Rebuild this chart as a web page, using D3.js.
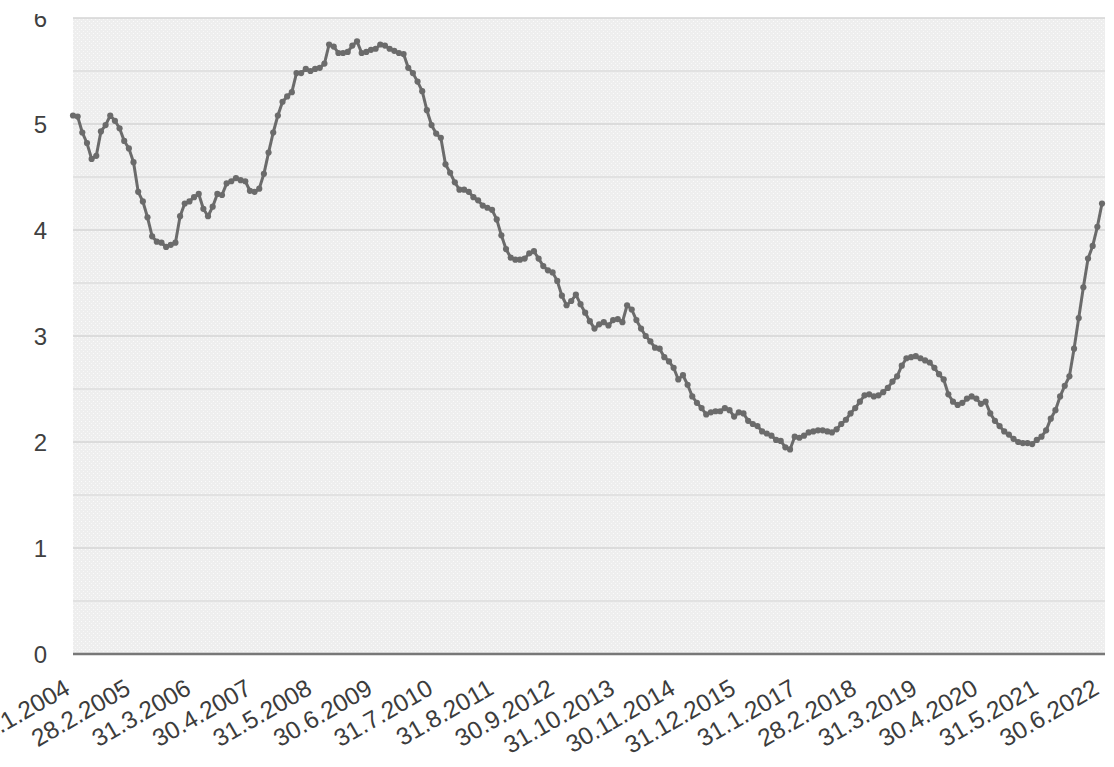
<!DOCTYPE html>
<html><head><meta charset="utf-8">
<script src="https://cdn.jsdelivr.net/npm/d3@7/dist/d3.min.js"></script>
<style>html,body{margin:0;padding:0;background:#fff;} svg{display:block}</style>
</head><body>
<svg id="chart" width="1114" height="767"></svg>
<script>
// Monthly series, Jan 2004 .. Jun 2022 (month-end values)
const values = [
5.08,5.07,4.92,4.82,4.67,4.70,4.93,4.99,5.08,5.03,4.96,4.84,
4.77,4.64,4.36,4.27,4.12,3.94,3.89,3.88,3.84,3.86,3.88,4.13,
4.25,4.27,4.31,4.34,4.20,4.13,4.22,4.34,4.33,4.44,4.46,4.49,
4.47,4.46,4.37,4.36,4.39,4.53,4.73,4.92,5.08,5.21,5.26,5.30,
5.48,5.48,5.52,5.50,5.52,5.53,5.57,5.75,5.73,5.67,5.67,5.68,
5.74,5.78,5.67,5.68,5.70,5.71,5.75,5.74,5.71,5.69,5.67,5.66,
5.53,5.48,5.40,5.31,5.13,4.99,4.91,4.87,4.62,4.54,4.45,4.38,
4.38,4.36,4.31,4.28,4.23,4.21,4.19,4.10,3.95,3.82,3.74,3.72,
3.72,3.73,3.78,3.80,3.73,3.66,3.62,3.60,3.52,3.38,3.29,3.33,
3.39,3.30,3.22,3.14,3.07,3.11,3.13,3.10,3.15,3.16,3.13,3.29,
3.25,3.15,3.07,3.00,2.95,2.89,2.88,2.80,2.76,2.70,2.59,2.63,
2.54,2.43,2.37,2.32,2.26,2.28,2.29,2.29,2.32,2.30,2.24,2.28,
2.27,2.20,2.17,2.15,2.10,2.08,2.06,2.02,2.01,1.95,1.93,2.05,
2.04,2.06,2.09,2.10,2.11,2.11,2.10,2.09,2.12,2.17,2.21,2.27,
2.32,2.38,2.44,2.45,2.43,2.44,2.47,2.51,2.57,2.62,2.72,2.79,
2.80,2.81,2.79,2.77,2.75,2.70,2.64,2.59,2.45,2.38,2.35,2.37,
2.41,2.43,2.41,2.36,2.38,2.27,2.20,2.15,2.10,2.07,2.03,2.00,
1.99,1.99,1.98,2.02,2.05,2.11,2.22,2.30,2.43,2.53,2.62,2.88,
3.17,3.46,3.73,3.85,4.03,4.25
];
const yTicks = [0,1,2,3,4,5,6];
const yGrid = [0.5,1,1.5,2,2.5,3,3.5,4,4.5,5,5.5,6];
const tickLabels = ["31.1.2004","28.2.2005","31.3.2006","30.4.2007","31.5.2008","30.6.2009",
  "31.7.2010","31.8.2011","30.9.2012","31.10.2013","30.11.2014","31.12.2015","31.1.2017",
  "28.2.2018","31.3.2019","30.4.2020","31.5.2021","30.6.2022"];
const startYear = 2004, startMonth = 0;
const categories = values.map((v,i)=>{
  const d = new Date(Date.UTC(startYear, startMonth + i + 1, 0));
  return d.getUTCDate() + "." + (d.getUTCMonth()+1) + "." + d.getUTCFullYear();
});

const svg = d3.select("#chart");
const L = 73, R = 1105, T = 18, B = 654;
const x = d3.scalePoint().domain(categories).range([73, 1102]);
const y = d3.scaleLinear().domain([0, 6]).range([B, T]);

const defs = svg.append("defs");
const pat = defs.append("pattern").attr("id","dots").attr("width",4).attr("height",4)
  .attr("patternUnits","userSpaceOnUse");
pat.append("rect").attr("width",4).attr("height",4).attr("fill","#eeeeee");
pat.append("rect").attr("x",1).attr("y",1).attr("width",1).attr("height",1).attr("fill","#fbfbfb");
pat.append("rect").attr("x",3).attr("y",3).attr("width",1).attr("height",1).attr("fill","#f8f8f8");
defs.append("clipPath").attr("id","yclip").append("rect")
  .attr("x",0).attr("y",14).attr("width",70).attr("height",760);

svg.append("rect").attr("x",L).attr("y",T).attr("width",R-L).attr("height",B-T).attr("fill","url(#dots)");

svg.append("g").selectAll("line").data(yGrid).join("line")
  .attr("x1",L).attr("x2",R)
  .attr("y1",d=>y(d)).attr("y2",d=>y(d))
  .attr("stroke",d=> Number.isInteger(d) ? "#d4d4d4" : "#dcdcdc")
  .attr("stroke-width",1.5);

// y axis labels
const yAxis = d3.axisLeft(y).tickValues(yTicks).tickSize(0).tickPadding(0).tickFormat(d3.format("d"));
const yOuter = svg.append("g").attr("clip-path","url(#yclip)");
const yg = yOuter.append("g").attr("transform","translate(47,0)").call(yAxis);
yg.select(".domain").remove();
yg.selectAll("text").attr("font-family","Liberation Sans, Arial, sans-serif")
  .attr("font-size",24).attr("fill","#404040").attr("dy","0.36em");

// baseline
svg.append("line").attr("x1",L).attr("x2",R).attr("y1",B).attr("y2",B)
  .attr("stroke","#787878").attr("stroke-width",2.5);

// x axis labels
const xAxis = d3.axisBottom(x).tickValues(tickLabels).tickSize(0).tickPadding(0);
const xg = svg.append("g").attr("transform",`translate(0,${B})`).call(xAxis);
xg.select(".domain").remove();
xg.selectAll(".tick text")
  .attr("font-family","Liberation Sans, Arial, sans-serif")
  .attr("font-size",24.5).attr("fill","#3c3c3c")
  .attr("text-anchor","end").attr("dy",null).attr("y",null)
  .attr("transform","translate(-2,39) rotate(-30)");

// line + markers
const line = d3.line().x((d,i)=>x(categories[i])).y(d=>y(d));
svg.append("path").datum(values).attr("d",line)
  .attr("fill","none").attr("stroke","#6b6b6b").attr("stroke-width",3).attr("stroke-linejoin","round");
svg.append("g").selectAll("circle").data(values).join("circle")
  .attr("cx",(d,i)=>x(categories[i])).attr("cy",d=>y(d)).attr("r",3.1).attr("fill","#6b6b6b");
</script>
</body></html>
